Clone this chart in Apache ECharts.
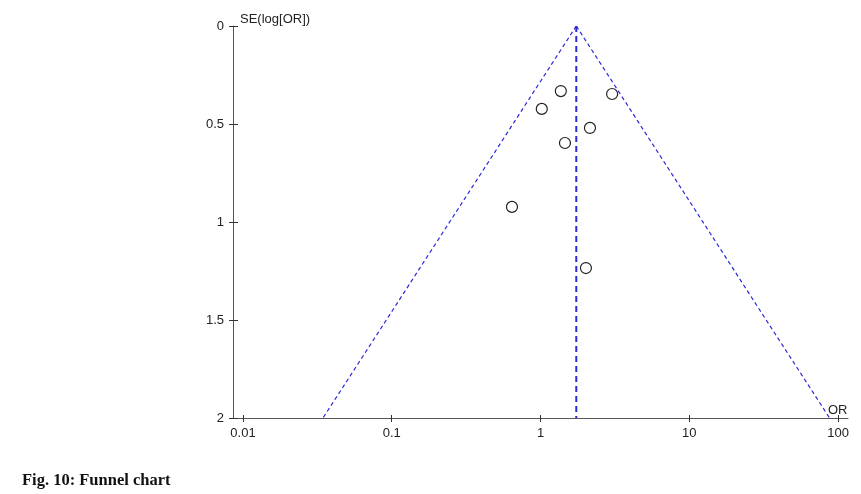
<!DOCTYPE html>
<html>
<head>
<meta charset="utf-8">
<script src="https://cdn.jsdelivr.net/npm/echarts@6/dist/echarts.min.js"></script>
<style>html,body{margin:0;padding:0;background:#fff;}#c{width:861px;height:494px;}</style>
</head>
<body>
<div id="c"></div>
<script>
// Study odds ratios and standard errors of log(OR)
const studyOR = [1.37, 1.02, 3.03, 2.15, 1.46, 0.643, 2.02];
const studySE = [0.332, 0.423, 0.347, 0.520, 0.597, 0.923, 1.235];
// Pooled estimate and 95% funnel limits (OR at SE = 0 and SE = 2)
const pooledOR = 1.74;
const funnelSE = [0, 2];
const funnelLowerOR = [1.74, 0.0345];
const funnelUpperOR = [1.74, 87.7];
// Axis ticks
const xTickOR = [0.01, 0.1, 1, 10, 100];
const xTickLabels = ['0.01', '0.1', '1', '10', '100'];
const xRangeOR = [0.00857, 116.7];
const yTicks = [0, 0.5, 1, 1.5, 2];

const lg = v => Math.log10(v);
const xTickPos = xTickOR.map(lg);
const labelMap = {};
xTickPos.forEach((p, i) => { labelMap[p.toFixed(3)] = xTickLabels[i]; });

const axisColor = '#555';
const textColor = '#222';
const font = 'Liberation Sans, Arial, sans-serif';
const blue = '#2a2ad8';

const chart = echarts.init(document.getElementById('c'), null, {renderer: 'canvas'});
const commonX = {
  type: 'value', min: lg(xRangeOR[0]), max: lg(xRangeOR[1]),
  position: 'bottom', splitLine: {show: false}
};
chart.setOption({
  animation: false,
  backgroundColor: '#fff',
  title: {
    text: 'Fig. 10: Funnel chart', left: 22, top: 472, padding: 0,
    textStyle: {fontFamily: 'Liberation Serif, Times New Roman, serif', fontWeight: 'bold', fontSize: 16.5, color: '#111'}
  },
  grid: {left: 233, right: 13, top: 26, bottom: 76, containLabel: false},
  xAxis: [
    Object.assign({}, commonX, {
      name: 'OR', nameLocation: 'end', nameGap: -20,
      nameTextStyle: {fontFamily: font, fontSize: 13, color: textColor, verticalAlign: 'bottom', align: 'left', padding: [0, 0, 1, 0]},
      axisLine: {show: true, onZero: false, lineStyle: {color: axisColor, width: 1}},
      axisTick: {show: true, inside: false, length: 4, customValues: xTickPos, lineStyle: {color: '#333'}},
      axisLabel: {show: true, customValues: xTickPos, margin: 9, fontFamily: font, fontSize: 13, color: textColor,
        formatter: v => labelMap[v.toFixed(3)] || ''}
    }),
    Object.assign({}, commonX, {
      axisLine: {show: false, onZero: false},
      axisTick: {show: true, inside: true, length: 3, customValues: xTickPos, lineStyle: {color: '#333'}},
      axisLabel: {show: false}
    })
  ],
  yAxis: [
    {
      type: 'value', inverse: true, min: 0, max: 2, interval: 0.5, position: 'left',
      name: 'SE(log[OR])', nameLocation: 'start', nameGap: 7,
      nameTextStyle: {fontFamily: font, fontSize: 13, color: textColor, align: 'left', verticalAlign: 'middle', padding: [0, 0, 0, 7]},
      axisLine: {show: true, onZero: false, lineStyle: {color: axisColor, width: 1}},
      axisTick: {show: true, inside: false, length: 4, customValues: yTicks, lineStyle: {color: '#333'}},
      axisLabel: {margin: 9, fontFamily: font, fontSize: 13, color: textColor},
      splitLine: {show: false}
    },
    {
      type: 'value', inverse: true, min: 0, max: 2, interval: 0.5, position: 'left',
      axisLine: {show: false, onZero: false},
      axisTick: {show: true, inside: true, length: 5, customValues: yTicks, lineStyle: {color: '#333'}},
      axisLabel: {show: false},
      splitLine: {show: false}
    }
  ],
  series: [
    {
      type: 'line', name: 'lower', xAxisIndex: 0, yAxisIndex: 0, symbol: 'none', silent: true,
      data: funnelSE.map((s, i) => [lg(funnelLowerOR[i]), s]),
      lineStyle: {color: blue, width: 1.2, type: [4, 3]}
    },
    {
      type: 'line', name: 'upper', xAxisIndex: 0, yAxisIndex: 0, symbol: 'none', silent: true,
      data: funnelSE.map((s, i) => [lg(funnelUpperOR[i]), s]),
      lineStyle: {color: blue, width: 1.2, type: [4, 3]}
    },
    {
      type: 'line', name: 'pooled', xAxisIndex: 0, yAxisIndex: 0, symbol: 'none', silent: true,
      data: funnelSE.map(s => [lg(pooledOR), s]),
      lineStyle: {color: blue, width: 2, type: [6, 4]}
    },
    {
      type: 'scatter', name: 'studies', xAxisIndex: 0, yAxisIndex: 0,
      symbol: 'circle', symbolSize: 11,
      data: studyOR.map((o, i) => [lg(o), studySE[i]]),
      itemStyle: {color: '#fff', borderColor: '#222', borderWidth: 1.2, opacity: 1},
      z: 5
    }
  ]
});
</script>
</body>
</html>
